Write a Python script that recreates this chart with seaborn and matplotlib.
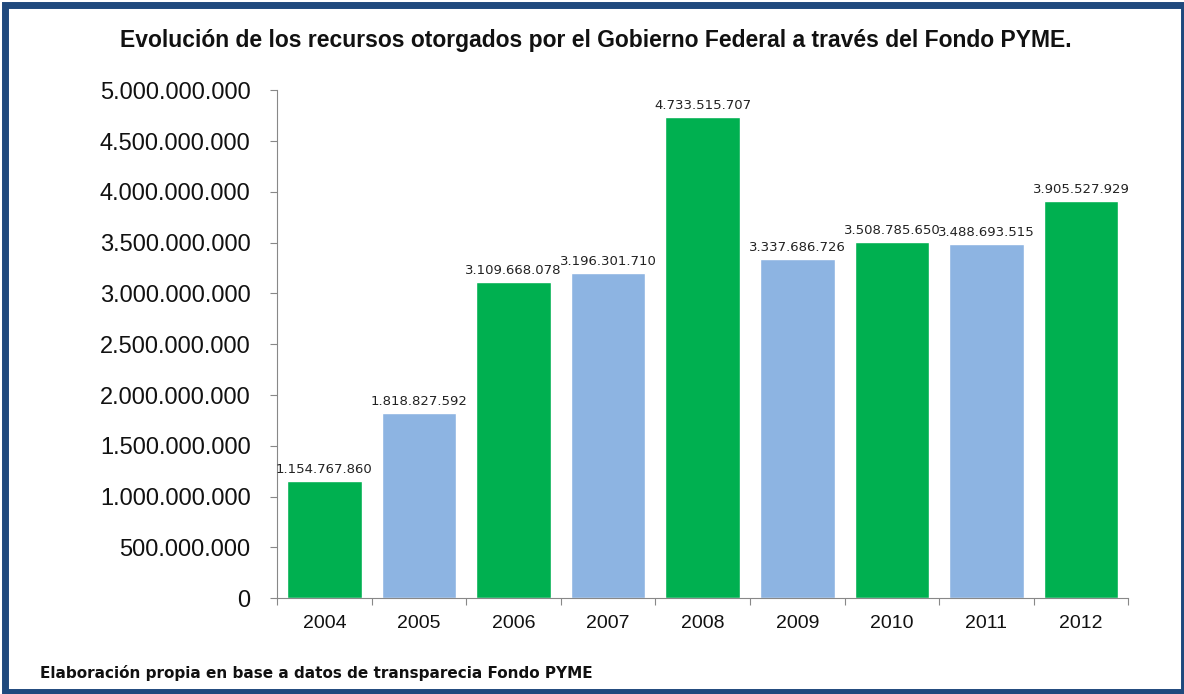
import matplotlib
matplotlib.use("Agg")
import matplotlib.pyplot as plt
import matplotlib.ticker as mticker
from matplotlib.patches import Rectangle
import seaborn as sns
import pandas as pd

years = ["2004", "2005", "2006", "2007", "2008", "2009", "2010", "2011", "2012"]
values = [1154767860, 1818827592, 3109668078, 3196301710, 4733515707,
          3337686726, 3508785650, 3488693515, 3905527929]
bar_colors = ["#00B050", "#8DB4E2", "#00B050", "#8DB4E2", "#00B050",
              "#8DB4E2", "#00B050", "#8DB4E2", "#00B050"]
yticks = [0, 500000000, 1000000000, 1500000000, 2000000000, 2500000000,
          3000000000, 3500000000, 4000000000, 4500000000, 5000000000]
title = "Evolución de los recursos otorgados por el Gobierno Federal a través del Fondo PYME."
footnote = "Elaboración propia en base a datos de transparecia Fondo PYME"

sns.set_style("white")
plt.rcParams['font.family'] = ['Liberation Sans', 'DejaVu Sans']

def fmt(v):
    return f"{int(v):,}".replace(",", ".")

df = pd.DataFrame({"year": years, "value": values})

fig = plt.figure(figsize=(11.84, 6.94), dpi=100)
ax = fig.add_axes([0.234, 0.138, 0.719, 0.732])
sns.barplot(data=df, x="year", y="value", hue="year", palette=bar_colors,
            legend=False, width=0.79, saturation=1, ax=ax)

ax.set_ylim(0, 5000000000)
ax.set_xlim(-0.5, len(years) - 0.5)
ax.set_yticks(yticks)
ax.yaxis.set_major_formatter(mticker.FuncFormatter(lambda v, p: fmt(v)))
ax.tick_params(axis="y", labelsize=17, length=5, width=0.8, color="#888888",
               direction="out", left=True, pad=14, labelcolor="#111111")
ax.tick_params(axis="x", which="major", labelsize=14, length=0, pad=12,
               labelcolor="#111111")
ax.set_xticks([i + 0.5 for i in range(-1, len(years))], minor=True)
ax.tick_params(axis="x", which="minor", length=5, width=0.8, color="#888888",
               direction="out", bottom=True)
ax.set_xlabel("")
ax.set_ylabel("")
for s in ["top", "right"]:
    ax.spines[s].set_visible(False)
for s in ["left", "bottom"]:
    ax.spines[s].set_color("#888888")
    ax.spines[s].set_linewidth(0.8)

for i, v in enumerate(values):
    ax.text(i, v + 50000000, fmt(v), ha="center", va="bottom", fontsize=9.5,
            color="#222222", family="DejaVu Sans")

fig.text(0.503, 0.942, title, ha="center", va="center", fontsize=16.5,
         fontweight="bold", color="#111111")
fig.text(0.034, 0.030, footnote, ha="left", va="center", fontsize=11,
         fontweight="bold", color="#111111", family="DejaVu Sans")

# outer frame
fig.patches.append(Rectangle((0.004, 0.003), 0.996, 0.990, transform=fig.transFigure,
                             fill=False, edgecolor="#1F497D", linewidth=5, zorder=10))

fig.savefig("out.png", dpi=100)
